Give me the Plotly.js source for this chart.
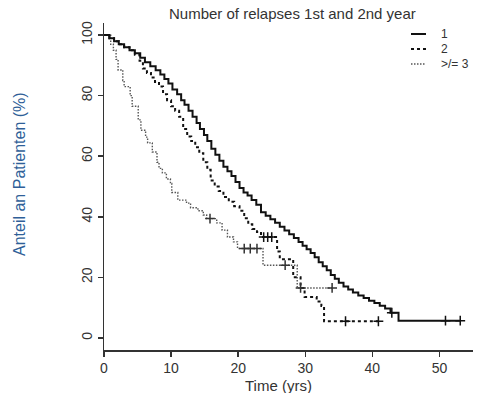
<!DOCTYPE html>
<html>
<head>
<meta charset="utf-8">
<script src="https://cdn.plot.ly/plotly-3.0.1.min.js"></script>
<style>
html,body{margin:0;padding:0;background:#fff;}
#chart{width:479px;height:393px;}
</style>
</head>
<body>
<div id="chart"></div>
<script>
// ---- Data ----
const groupNames = ["1", "2", ">/= 3"];

// Group "1" (solid): step times (yrs) and survival (%) after each step
const timesG1 = [0, 0.8, 1.5, 2.2, 3.0, 3.8, 4.6, 5.4, 6.1, 6.9, 7.7, 8.4, 9.0, 9.6, 10.2, 10.9, 11.5, 12.0, 12.6, 13.2, 13.8, 14.3, 14.9, 15.4, 16.0, 16.6, 17.2, 17.8, 18.4, 19.0, 19.6, 20.2, 20.8, 21.4, 22.0, 22.7, 23.4, 24.1, 24.8, 25.5, 26.2, 26.9, 27.6, 28.3, 29.0, 29.6, 30.2, 30.8, 31.4, 32.0, 32.6, 33.2, 33.8, 34.4, 35.0, 35.7, 36.4, 37.1, 37.9, 38.7, 39.5, 40.3, 41.1, 41.9, 42.7, 43.9];
const survG1  = [100, 99, 98, 97, 96, 95, 94, 92.5, 91, 89.7, 88.4, 87, 85.5, 84, 82, 80.5, 78.5, 77, 75, 73, 71, 69, 67, 65, 62.5, 60.5, 58.5, 56.5, 55, 53.5, 51.5, 49.5, 48, 47, 45.5, 44, 41.5, 40.3, 39.2, 38, 36.7, 35.5, 34.2, 33, 31.7, 30.4, 29.3, 28, 26.6, 25, 23.7, 22.3, 20.8, 19.5, 18.2, 17, 16, 15, 14, 13.2, 12.3, 11.5, 10.6, 9.7, 8.3, 5.7];
const endG1 = 53.1;
const censorTimesG1 = [42.9, 50.9, 53.1];
const censorSurvG1  = [8.3, 5.7, 5.7];

// Group "2" (dashed)
const timesG2 = [0, 0.8, 1.5, 2.2, 3.0, 3.8, 4.6, 5.3, 5.8, 6.4, 7.0, 7.6, 8.2, 8.8, 9.4, 10.0, 10.6, 11.2, 11.8, 12.4, 13.0, 13.6, 14.2, 14.8, 15.4, 15.9, 16.5, 17.1, 17.8, 18.6, 19.4, 20.2, 20.9, 21.5, 22.1, 22.8, 23.4, 25.8, 26.2, 28.2, 29.3, 29.9, 31.7, 32.4, 32.8];
const survG2  = [100, 99, 98, 97, 96, 95, 93.5, 91.5, 89, 87.5, 86, 84.5, 83, 80.5, 78.5, 76.5, 75, 73, 69, 66.5, 65, 63, 61, 58, 55.5, 52, 50, 48.5, 46.5, 45, 43.5, 42, 39.5, 37.5, 36, 35, 33.3, 28.5, 26, 20, 16.5, 13.5, 12, 10.5, 5.5];
const endG2 = 41.2;
const censorTimesG2 = [23.8, 24.4, 25.0, 36.0, 40.9];
const censorSurvG2  = [33.3, 33.3, 33.3, 5.5, 5.5];

// Group ">/= 3" (dotted)
const timesG3 = [0, 1.0, 1.4, 1.8, 2.1, 2.8, 3.0, 3.9, 4.2, 5.1, 5.5, 6.2, 6.5, 7.2, 7.9, 8.2, 8.7, 9.3, 9.9, 10.1, 11.0, 12.3, 12.9, 14.0, 14.8, 15.3, 16.8, 17.6, 18.4, 19.3, 19.9, 23.7, 28.8];
const survG3  = [100, 97, 95, 92, 88.5, 85, 83, 80, 76.5, 72, 68.6, 66.3, 64.4, 61.4, 58, 56, 54.5, 52.5, 51, 48, 45.5, 44.5, 43, 42, 40.6, 39.4, 38, 35.6, 33.3, 31.7, 29.5, 24, 16.5];
const endG3 = 34.0;
const censorTimesG3 = [15.8, 20.9, 21.8, 22.8, 27.0, 29.3, 34.0];
const censorSurvG3  = [39.4, 29.5, 29.5, 29.5, 24, 16.5, 16.5];

const xTickVals = [0, 10, 20, 30, 40, 50];
const yTickVals = [0, 20, 40, 60, 80, 100];

// ---- Build traces ----
function stepTrace(times, surv, end, line) {
  return {
    x: times.concat([end]),
    y: surv.concat([surv[surv.length - 1]]),
    mode: 'lines',
    line: Object.assign({shape: 'hv'}, line),
    showlegend: false,
    hoverinfo: 'skip'
  };
}
function censorTrace(t, s, color) {
  return {
    x: t, y: s, mode: 'markers',
    marker: {symbol: 'cross-thin', size: 7, line: {width: 1.5, color: color}, color: color},
    showlegend: false, hoverinfo: 'skip'
  };
}

const lineSolid  = {color: '#111', width: 2};
const lineDashed = {color: '#111', width: 2, dash: '3px,3px'};
const lineDotted = {color: '#555', width: 1.4, dash: '1.5px,1.5px'};

const traces = [
  stepTrace(timesG3, survG3, endG3, lineDotted),
  stepTrace(timesG2, survG2, endG2, lineDashed),
  stepTrace(timesG1, survG1, endG1, lineSolid),
  censorTrace(censorTimesG3, censorSurvG3, '#333'),
  censorTrace(censorTimesG2, censorSurvG2, '#111'),
  censorTrace(censorTimesG1, censorSurvG1, '#111')
];

const W = 479, H = 393, L = 104, R = 6, T = 23, B = 43;
const pw = W - L - R, ph = H - T - B;
const px = x => (x - L) / pw;
const py = y => (H - B - y) / ph;

const font = 'Liberation Sans, Arial, Helvetica, sans-serif';

const legendStyles = [lineSolid, lineDashed, lineDotted];
const legendY = [34, 49, 64];
const labelY = [34, 49, 64];

const shapes = legendStyles.map((st, i) => ({
  type: 'line', xref: 'paper', yref: 'paper',
  x0: px(411), x1: px(426), y0: py(legendY[i]), y1: py(legendY[i]),
  line: {color: st.color, width: st.width, dash: st.dash || 'solid'}
}));

const annotations = [
  {text: 'Number of relapses 1st and 2nd year', xref: 'paper', yref: 'paper',
   x: px(292), y: py(14), xanchor: 'center', yanchor: 'middle', showarrow: false,
   font: {family: font, size: 15, color: '#333'}},
  {text: 'Time (yrs)', xref: 'paper', yref: 'paper',
   x: px(278), y: py(385), xanchor: 'center', yanchor: 'middle', showarrow: false,
   font: {family: font, size: 15, color: '#333'}},
  {text: 'Anteil an Patienten (%)', xref: 'paper', yref: 'paper',
   x: px(19), y: py(174), xanchor: 'center', yanchor: 'middle', showarrow: false,
   textangle: -90, font: {family: font, size: 16, color: '#2f5f98'}}
].concat(groupNames.map((g, i) => ({
  text: g, xref: 'paper', yref: 'paper', x: px(440), y: py(labelY[i]),
  xanchor: 'left', yanchor: 'middle', showarrow: false, borderpad: 0,
  font: {family: font, size: 12, color: '#333'}
})));

const layout = {
  width: W, height: H,
  margin: {l: L, r: R, t: T, b: B, pad: 0},
  paper_bgcolor: '#fff', plot_bgcolor: '#fff',
  showlegend: false,
  font: {family: font, color: '#333'},
  xaxis: {
    range: [0, 55], tickvals: xTickVals, ticktext: xTickVals.map(String),
    ticks: 'outside', ticklen: 5, tickwidth: 1.5, tickcolor: '#333',
    showline: true, linewidth: 1.5, linecolor: '#333',
    showgrid: false, zeroline: false,
    tickfont: {family: font, size: 14, color: '#333'}
  },
  yaxis: {
    range: [-4, 104], tickvals: yTickVals, ticktext: yTickVals.map(String),
    ticks: 'outside', ticklen: 5, tickwidth: 1.5, tickcolor: '#333',
    showline: true, linewidth: 1.5, linecolor: '#333',
    showgrid: false, zeroline: false, tickangle: -90,
    tickfont: {family: font, size: 14, color: '#333'}
  },
  shapes: shapes,
  annotations: annotations
};

Plotly.newPlot('chart', traces, layout, {staticPlot: true, displayModeBar: false});
</script>
</body>
</html>
